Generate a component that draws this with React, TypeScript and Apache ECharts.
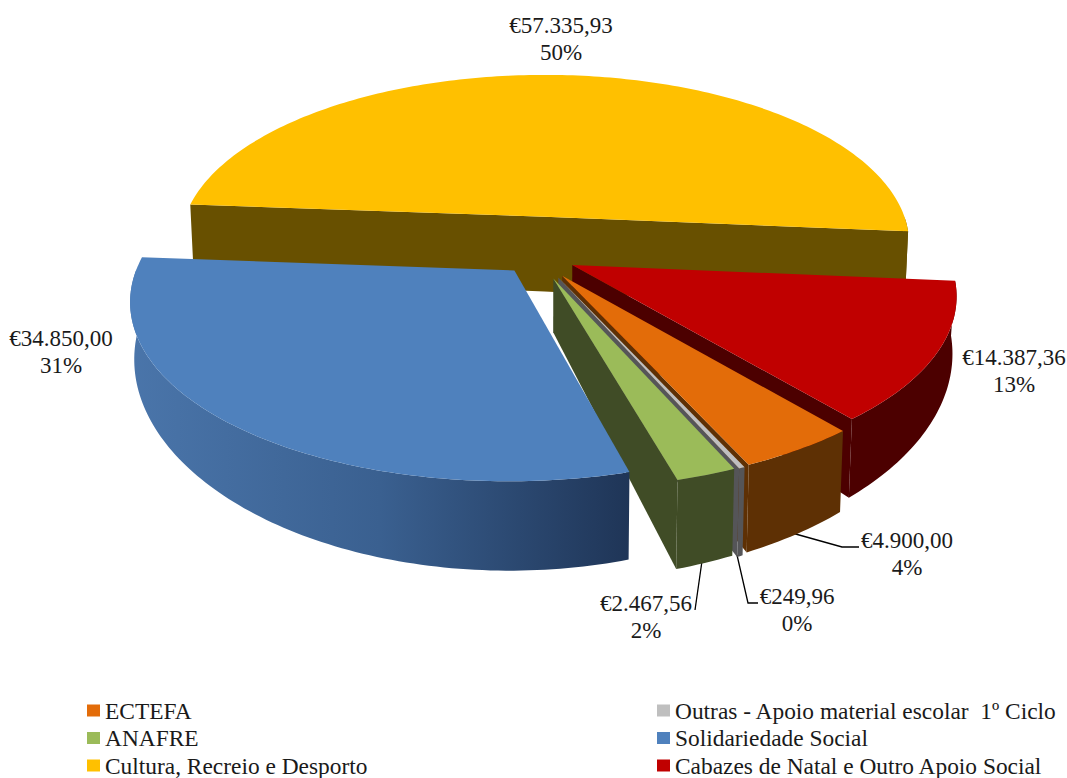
import React, { useEffect, useRef } from "react";
import * as echarts from "echarts";

// Data (in the chart's clockwise order)
const categories = [
  "ECTEFA",
  "Outras - Apoio material escolar  1º Ciclo",
  "ANAFRE",
  "Solidariedade Social",
  "Cultura, Recreio e Desporto",
  "Cabazes de Natal e Outro Apoio Social",
];
const values = [4900.0, 249.96, 2467.56, 34850.0, 57335.93, 14387.36];

// Styling
const topColors = ["#E36C09", "#BFBFBF", "#9BBB59", "#4F81BD", "#FFC000", "#C00000"];
const wallColors = ["#5E3004", "#555558", "#404C26", "#34588A", "#685000", "#4C0000"];
const explodeX = [0.047, 0.037, 0.024, -0.077, 0.002, 0.074];
const explodeY = [0.13, 0.14, 0.146, 0.1, -0.22, 0.07];
const radiusX = [0.99, 0.99, 0.995, 0.985, 0.985, 0.99];
const radiusY = [0.99, 0.99, 0.985, 1, 1.03, 1];
const wallHeights = [51, 51, 50, 50, 83, 51];
const paintOrder = [4, 5, 0, 1, 2, 3];
const labelCenters: [number, number][] = [
  [907, 554],
  [797, 610],
  [646, 617],
  [61, 352],
  [561, 39],
  [1014, 371],
];
const leaderLines: number[][][] = [
  [[792, 533], [842, 547], [859, 547]],
  [[737, 555], [748, 603], [758, 603]],
  [[702, 561], [695, 610]],
];

const START_DEG = 50.4;
const CX = 544;
const CY = 253;
const RX = 378;
const RY = 171;
const PERSP = 0.16;
const SHRINK = 0.01;
const FONT = '"Liberation Serif", serif';

const total = values.reduce((a, b) => a + b, 0);
const money = (v: number) => {
  const [i, d] = v.toFixed(2).split(".");
  return "€" + i.replace(/\B(?=(\d{3})+(?!\d))/g, ".") + "," + d;
};

function project(X: number, Y: number, h: number) {
  const s = 1 / (1 - PERSP * Y);
  const x = CX + RX * X * s;
  const y = CY + RY * Y * s;
  const d = h * s * s * s;
  return { top: [x, y], bottom: [CX + (x - CX) * (1 - SHRINK), y + d] };
}

function makeRender(idx: number) {
  return (_params: any, api: any) => {
    const v = api.value(0);
    const before = values.slice(0, idx).reduce((a, b) => a + b, 0);
    const a0 = START_DEG + (before / total) * 360;
    const a1 = a0 + (v / total) * 360;
    const ox = explodeX[idx];
    const oy = explodeY[idx];
    const h = wallHeights[idx];
    const at = (deg: number, r = 1) => {
      const t = (deg * Math.PI) / 180;
      return project(ox + r * radiusX[idx] * Math.cos(t), oy + r * radiusY[idx] * Math.sin(t), h);
    };
    const steps = Math.max(2, Math.ceil(a1 - a0));
    const arc: number[] = [];
    for (let i = 0; i <= steps; i++) arc.push(a0 + ((a1 - a0) * i) / steps);
    const apex = at(0, 0);
    const children: any[] = [];
    const wallFill =
      idx === 3
        ? new echarts.graphic.LinearGradient(0, 0, 1, 0, [
            { offset: 0, color: "#4A75AA" },
            { offset: 0.5, color: "#3A6090" },
            { offset: 1, color: "#1F3557" },
          ])
        : wallColors[idx];
    const poly = (points: number[][], fill: any) => ({
      type: "polygon",
      shape: { points },
      style: { fill, stroke: "none" },
    });
    // radial walls turned toward the viewer; two of them form one continuous face
    const faces0 = Math.sin(((a0 - 90) * Math.PI) / 180) > 0;
    const faces1 = Math.sin(((a1 + 90) * Math.PI) / 180) > 0;
    const e0 = at(a0);
    const e1 = at(a1);
    if (faces0 && faces1) {
      children.push(
        poly([e0.top, apex.top, e1.top, e1.bottom, apex.bottom, e0.bottom], wallColors[idx])
      );
    } else if (faces0) {
      children.push(poly([apex.top, e0.top, e0.bottom, apex.bottom], wallColors[idx]));
    } else if (faces1) {
      children.push(poly([apex.top, e1.top, e1.bottom, apex.bottom], wallColors[idx]));
    }
    // outer wall: the part of the rim on the near side
    const front = arc.filter((d) => Math.sin((d * Math.PI) / 180) > -0.01);
    if (front.length > 1) {
      const pts = front.map((d) => at(d));
      children.push(
        poly([...pts.map((p) => p.top), ...pts.slice().reverse().map((p) => p.bottom)], wallFill)
      );
    }
    // top face
    children.push(poly([apex.top, ...arc.map((d) => at(d).top)], topColors[idx]));
    return { type: "group", children };
  };
}

export default function App() {
  const ref = useRef<HTMLDivElement>(null);
  useEffect(() => {
    const chart = echarts.init(ref.current!, null, { renderer: "svg" });
    const legendBase = {
      orient: "vertical",
      top: 699,
      itemWidth: 13,
      itemHeight: 12,
      itemGap: 4.5,
      icon: "rect",
      selectedMode: false,
      padding: 0,
      textStyle: { fontFamily: FONT, fontSize: 23.4, color: "#1a1a1a" },
    };
    const graphics: any[] = [];
    values.forEach((v, i) => {
      graphics.push({
        type: "text",
        style: {
          text: money(v) + "\n" + Math.round((v / total) * 100) + "%",
          x: labelCenters[i][0],
          y: labelCenters[i][1],
          align: "center",
          verticalAlign: "middle",
          lineHeight: 27,
          fill: "#1a1a1a",
          font: `23px ${FONT}`,
        },
      });
    });
    leaderLines.forEach((pts) => {
      graphics.push({
        type: "polyline",
        shape: { points: pts },
        style: { stroke: "#000", lineWidth: 1.3, fill: "none" },
      });
    });
    chart.setOption({
      animation: false,
      backgroundColor: "#fff",
      color: topColors,
      legend: [
        { ...legendBase, left: 87, data: [categories[0], categories[2], categories[4]] },
        { ...legendBase, left: 657, data: [categories[1], categories[3], categories[5]] },
      ],
      graphic: graphics,
      series: paintOrder.map((i) => ({
        type: "custom",
        name: categories[i],
        coordinateSystem: "none",
        silent: true,
        itemStyle: { color: topColors[i] },
        data: [[values[i]]],
        renderItem: makeRender(i),
      })),
    });
    return () => chart.dispose();
  }, []);
  return (
    <div
      ref={ref}
      style={{ position: "absolute", left: 0, top: 0, width: 1067, height: 778 }}
    />
  );
}
